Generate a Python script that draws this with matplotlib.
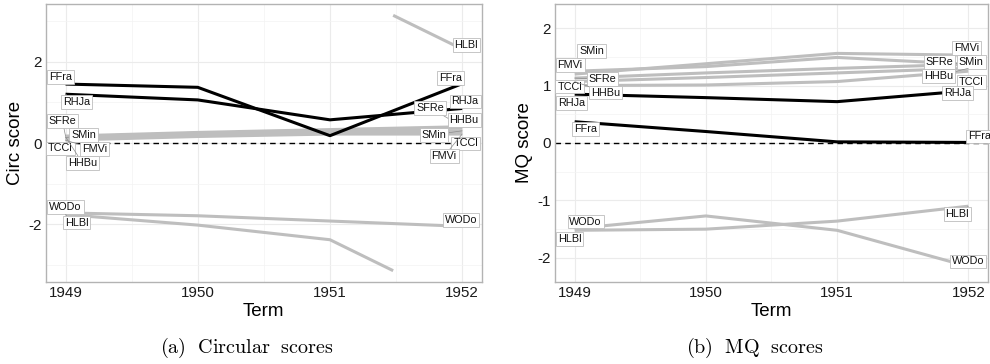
import numpy as np
import matplotlib.pyplot as plt

plt.rcParams['font.family'] = ['Liberation Sans', 'DejaVu Sans']
plt.rcParams['mathtext.fontset'] = 'cm'

TERMS = [1949, 1950, 1951, 1952]
NAMES = ["SFRe", "SMin", "TCCl", "FMVi", "HHBu", "WODo", "HLBl", "RHJa", "FFra"]
HIGHLIGHT = ["FFra", "RHJa"]

# circular scores (wrap at +-pi)
circ_ffra = [1.45, 1.37, 0.18, 1.46]
circ_rhja = [1.20, 1.06, 0.57, 0.85]
circ_sfre = [0.17, 0.26, 0.33, 0.40]
circ_hhbu = [0.15, 0.24, 0.30, 0.37]
circ_smin = [0.13, 0.22, 0.27, 0.30]
circ_tccl = [0.09, 0.18, 0.24, 0.26]
circ_fmvi = [0.07, 0.16, 0.22, 0.22]
circ_wodo = [-1.72, -1.79, -1.92, -2.05]
circ_hlbl = [-1.76, -2.02, -2.38, 2.31]

# MQ scores
mq_ffra = [0.37, 0.20, 0.02, 0.01]
mq_rhja = [0.85, 0.79, 0.72, 0.91]
mq_fmvi = [1.20, 1.38, 1.56, 1.53]
mq_smin = [1.25, 1.33, 1.49, 1.37]
mq_sfre = [1.13, 1.22, 1.30, 1.37]
mq_hhbu = [1.07, 1.14, 1.22, 1.30]
mq_tccl = [1.00, 1.01, 1.07, 1.25]
mq_wodo = [-1.49, -1.27, -1.52, -2.15]
mq_hlbl = [-1.52, -1.50, -1.36, -1.10]

circ = dict(FFra=circ_ffra, RHJa=circ_rhja, SFRe=circ_sfre, HHBu=circ_hhbu, SMin=circ_smin,
            TCCl=circ_tccl, FMVi=circ_fmvi, WODo=circ_wodo, HLBl=circ_hlbl)
mq = dict(FFra=mq_ffra, RHJa=mq_rhja, FMVi=mq_fmvi, SMin=mq_smin, SFRe=mq_sfre,
          HHBu=mq_hhbu, TCCl=mq_tccl, WODo=mq_wodo, HLBl=mq_hlbl)

# label offsets in pixels (dx, dy), first and last term
circ_off0 = dict(FFra=(-5, 7), RHJa=(11, -8), SFRe=(-3, 15), SMin=(18, 3), TCCl=(-5, -9),
                 FMVi=(29, -9), HHBu=(17, -26), WODo=(0, 6), HLBl=(11, -8))
circ_off1 = dict(HLBl=(4, 4), FFra=(-12, 6), RHJa=(3, 7), SFRe=(-32, 19), HHBu=(2, 8),
                 SMin=(-28, -4), TCCl=(3.5, -11), FMVi=(-18, -22), WODo=(-1, 6))
mq_off0 = dict(SMin=(17, 20), FMVi=(-4.5, 9), SFRe=(28, -1), TCCl=(-5, -1), HHBu=(31, -11),
               RHJa=(-3, -9), FFra=(11, -7.5), WODo=(11, 7), HLBl=(-5, -8.6))
mq_off1 = dict(FMVi=(-2, 7), SFRe=(-29, 2.4), SMin=(3, 2.4), HHBu=(-30, -7.4), TCCl=(3, -11),
               RHJa=(-11, -2.5), FFra=(11, 6), HLBl=(-11, -7.6), WODo=(0, 5))

GREY = '#bebebe'


def pieces(x, y, wrap):
    segs, cx, cy = [], [x[0]], [y[0]]
    for i in range(1, len(x)):
        d = y[i] - y[i - 1]
        if wrap and abs(d) > np.pi:
            yu = y[i] - np.sign(d) * 2 * np.pi
            edge = np.sign(yu - y[i - 1]) * np.pi
            t = (edge - y[i - 1]) / (yu - y[i - 1])
            xm = x[i - 1] + t * (x[i] - x[i - 1])
            cx.append(xm); cy.append(edge)
            segs.append((cx, cy))
            cx, cy = [xm], [-edge]
        cx.append(x[i]); cy.append(y[i])
    segs.append((cx, cy))
    return segs


def label(ax, name, x, y, off):
    dist = np.hypot(*off)
    arrow = dict(arrowstyle='-', color='#8c8c8c', lw=0.5, shrinkA=0, shrinkB=0) if dist > 12 else None
    ax.annotate(name, xy=(x, y), xytext=off, textcoords='offset pixels', ha='center', va='center',
                fontsize=7.8, color='#111111', zorder=6, arrowprops=arrow,
                bbox=dict(boxstyle='square,pad=0.17', fc='white', ec='#bdbdbd', lw=0.6))


def panel(ax, scores, off0, off1, ylim, major, minor, ylab, wrap=False):
    for name in NAMES:
        y = scores[name]
        hl = name in HIGHLIGHT
        for xs, ys in pieces(TERMS, y, wrap):
            ax.plot(xs, ys, color='black' if hl else GREY, lw=2.2, zorder=4 if hl else 3,
                    solid_capstyle='butt')
    for name in NAMES:
        y = scores[name]
        label(ax, name, TERMS[0], y[0], off0[name])
        label(ax, name, TERMS[-1], y[-1], off1[name])
    ax.axhline(0, color='black', ls=(0, (4, 3)), lw=1.0, zorder=2)
    ax.set_xlim(1948.85, 1952.15)
    ax.set_ylim(*ylim)
    ax.set_xticks(TERMS)
    ax.set_xticks([1949.5, 1950.5, 1951.5], minor=True)
    ax.set_yticks(major)
    ax.set_yticks(minor, minor=True)
    ax.grid(which='major', color='#ebebeb', lw=0.8, zorder=0)
    ax.grid(which='minor', color='#f3f3f3', lw=0.5, zorder=0)
    ax.set_axisbelow(True)
    ax.tick_params(which='both', length=0, labelsize=10.9, colors='#1a1a1a', pad=3)
    for s in ax.spines.values():
        s.set_color('#b3b3b3')
        s.set_linewidth(1.0)
    ax.set_xlabel('Term', fontsize=13.5, labelpad=2)
    ax.set_ylabel(ylab, fontsize=13.5, labelpad=3)


fig = plt.figure(figsize=(9.9, 3.64), dpi=100)
ax1 = fig.add_axes([45.7 / 990, 82 / 364, 436.3 / 990, 278 / 364])
ax2 = fig.add_axes([555 / 990, 82 / 364, 433 / 990, 278 / 364])

panel(ax1, circ, circ_off0, circ_off1, (-3.42, 3.42), [-2, 0, 2], [-3, -1, 1, 3], 'Circ score', wrap=True)
panel(ax2, mq, mq_off0, mq_off1, (-2.42, 2.42), [-2, -1, 0, 1, 2], [-1.5, -0.5, 0.5, 1.5], 'MQ score')
ax2.set_yticklabels(['-2', '-1', '0', '1', '2'])
ax1.set_yticklabels(['-2', '0', '2'])

fig.text(247 / 990, 1 - 348 / 364, r'$\mathrm{(a)\ \ Circular\ \ scores}$', ha='center', va='center', fontsize=14.5)
fig.text(755 / 990, 1 - 348 / 364, r'$\mathrm{(b)\ \ MQ\ \ scores}$', ha='center', va='center', fontsize=14.5)

fig.savefig('out.png', dpi=100)
